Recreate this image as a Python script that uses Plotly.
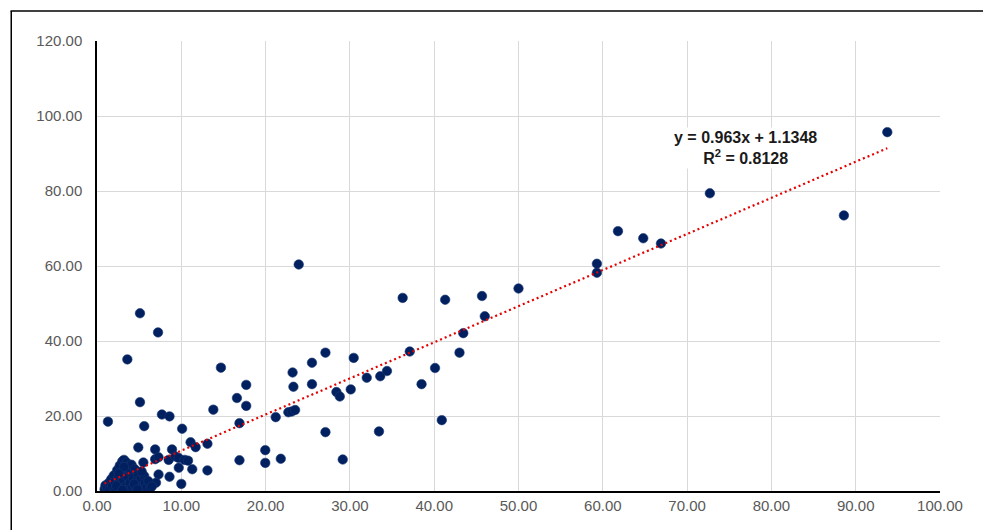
import plotly.graph_objects as go

# ---- data ----
x_vals = [
    93.75, 88.6, 72.7, 61.8, 64.8, 66.9, 59.3, 59.3, 50.0,
    23.93, 7.24, 36.26, 41.3, 45.67, 46.0, 43.45, 43.0, 40.1, 38.5, 40.9,
    37.1, 34.4, 33.6, 32.0, 30.45, 27.1, 25.5, 25.5, 23.2, 23.3, 28.4, 28.8,
    30.1, 27.1, 33.45, 29.15, 21.2, 19.96, 19.96, 21.8, 16.9, 16.9, 16.6,
    17.7, 17.7, 14.7, 13.8, 13.1, 13.1, 22.7, 23.1, 23.5,
    5.1, 3.6, 5.1, 1.3, 5.6, 7.7, 8.6, 10.1, 4.9, 6.9, 8.9, 11.1, 11.7,
    5.5, 6.9, 7.3, 8.5, 9.3, 9.7, 10.4, 10.8, 9.7, 11.3, 8.6, 7.3, 7.0, 10.0,
    0.9, 1.0, 1.2, 1.4, 1.5, 1.7, 1.8, 2.0, 2.1, 2.2, 2.4, 2.5, 2.6, 2.7, 2.8,
    2.9, 3.0, 3.1, 3.2, 3.3, 3.4, 3.5, 3.6, 3.7, 3.8, 3.9, 4.0, 4.1, 4.2, 4.3,
    4.5, 4.6, 4.7, 4.9, 5.0, 5.2, 5.4, 5.6, 5.7, 5.9, 6.1, 6.3, 2.3, 3.0, 4.4,
    6.5, 5.3, 3.2, 2.6, 4.8,
]
y_vals = [
    95.7, 73.5, 79.4, 69.3, 67.4, 66.0, 60.6, 58.2, 54.0,
    60.4, 42.3, 51.5, 51.0, 52.0, 46.6, 42.1, 36.9, 32.8, 28.5, 18.9,
    37.2, 32.0, 30.6, 30.2, 35.5, 36.9, 34.2, 28.5, 31.6, 27.8, 26.4, 25.2,
    27.1, 15.7, 15.9, 8.4, 19.7, 10.9, 7.5, 8.6, 18.1, 8.2, 24.8,
    28.3, 22.7, 32.9, 21.7, 12.6, 5.5, 21.0, 21.2, 21.6,
    47.4, 35.1, 23.7, 18.5, 17.3, 20.4, 19.9, 16.6, 11.6, 11.1, 11.1, 13.0, 11.7,
    7.6, 8.5, 9.0, 8.3, 9.2, 8.8, 8.3, 8.1, 6.2, 5.8, 3.8, 4.4, 2.2, 1.9,
    0.5, 1.5, 0.8, 2.2, 0.4, 3.2, 1.3, 4.2, 2.5, 0.6, 5.6, 3.5, 1.8, 6.8, 0.9,
    4.8, 7.9, 2.9, 8.3, 5.9, 1.2, 7.6, 3.8, 0.5, 6.7, 2.2, 5.0, 7.0, 1.0, 3.4,
    5.8, 0.7, 2.6, 4.5, 1.5, 3.3, 0.6, 4.0, 2.2, 1.0, 2.6, 0.8, 1.4, 0.3, 1.9,
    1.2, 5.2, 6.4, 4.6, 0.4,
]

slope = 0.963
intercept = 1.1348
r_squared = 0.8128

x_ticks = [0, 10, 20, 30, 40, 50, 60, 70, 80, 90, 100]
y_ticks = [0, 20, 40, 60, 80, 100, 120]

# trendline endpoints from the data extent
x_min = min(x_vals)
x_max = max(x_vals)
trend_x = [x_min, x_max]
trend_y = [slope * v + intercept for v in trend_x]

fig = go.Figure()
fig.add_trace(go.Scatter(
    x=x_vals, y=y_vals, mode="markers",
    marker=dict(size=9.5, color="#002060", line=dict(width=0.6, color="#1a3570")),
    showlegend=False, hoverinfo="x+y",
))
fig.add_trace(go.Scatter(
    x=trend_x, y=trend_y, mode="lines",
    line=dict(color="#e60000", width=2.2, dash="2px,3px"),
    showlegend=False, hoverinfo="skip",
))

fig.add_annotation(
    x=76.9, y=91.6, xref="x", yref="y",
    text=f"<b>y = {slope}x + {intercept}<br>R<sup>2</sup> = {r_squared}</b>",
    showarrow=False, align="center",
    font=dict(family="Liberation Sans", size=16, color="#1a1a1a"),
    bgcolor="white",
)

# outer chart frame: top and left edges (drawn as thin filled bars)
fx0 = (10.5 - 97) / 843
fx1 = (983 - 97) / 843
fy1 = (491 - 11) / 450
fig.add_shape(type="rect", xref="paper", yref="paper",
              x0=fx0, x1=fx1, y0=fy1 - 0.75 / 450, y1=fy1 + 0.75 / 450,
              fillcolor="black", line=dict(width=0))
fig.add_shape(type="line", xref="paper", yref="paper",
              x0=fx0 + 0.75 / 843, x1=fx0 + 0.75 / 843, y0=-0.1, y1=fy1,
              line=dict(color="black", width=1.5))

tick_font = dict(family="Liberation Sans", size=15, color="#595959")
fig.update_layout(
    width=984, height=530,
    margin=dict(l=97, r=44, t=41, b=39),
    paper_bgcolor="white", plot_bgcolor="white",
    xaxis=dict(
        range=[0, 100], tickvals=x_ticks, tickformat=".2f",
        showgrid=True, gridcolor="#d9d9d9", gridwidth=1,
        showline=True, linecolor="black", linewidth=1.5,
        zeroline=False, ticks="", tickfont=tick_font,
    ),
    yaxis=dict(
        range=[0, 120], tickvals=y_ticks, tickformat=".2f",
        showgrid=True, gridcolor="#d9d9d9", gridwidth=1,
        showline=True, linecolor="black", linewidth=1.5,
        zeroline=False, ticks="", tickfont=tick_font,
        ticklabelstandoff=10,
    ),
)

fig.write_html("out.html", config={"displayModeBar": False})
